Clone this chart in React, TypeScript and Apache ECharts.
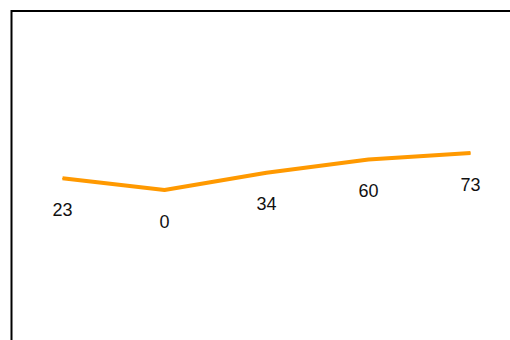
import React, { useEffect, useRef } from "react";
import * as echarts from "echarts";

const categories = ["A", "B", "C", "D", "E"];
const values = [23, 0, 34, 60, 73];

export default function App() {
  const ref = useRef<HTMLDivElement>(null);
  useEffect(() => {
    document.body.style.margin = "0";
    const chart = echarts.init(ref.current!, null, { renderer: "svg" });
    chart.setOption({
      animation: false,
      grid: {
        show: true,
        left: 11.5,
        top: 11,
        width: 510,
        height: 355,
        borderColor: "#000",
        borderWidth: 2,
        backgroundColor: "transparent",
        outerBoundsMode: "none",
      },
      xAxis: {
        type: "category",
        data: categories,
        boundaryGap: true,
        show: false,
      },
      yAxis: {
        type: "value",
        min: -347,
        max: 353,
        show: false,
      },
      series: [
        {
          type: "line",
          data: values,
          symbol: "circle",
          symbolSize: 1,
          showSymbol: true,
          itemStyle: { color: "#ff9900" },
          lineStyle: { color: "#ff9900", width: 4 },
          label: {
            show: true,
            position: "bottom",
            distance: 22,
            color: "#111",
            fontSize: 18,
            fontFamily: "Liberation Sans, Arial, sans-serif",
          },
        },
      ],
    });
    return () => chart.dispose();
  }, []);
  return (
    <div style={{ width: 510, height: 340, overflow: "hidden" }}>
      <div ref={ref} style={{ width: 560, height: 420 }} />
    </div>
  );
}
